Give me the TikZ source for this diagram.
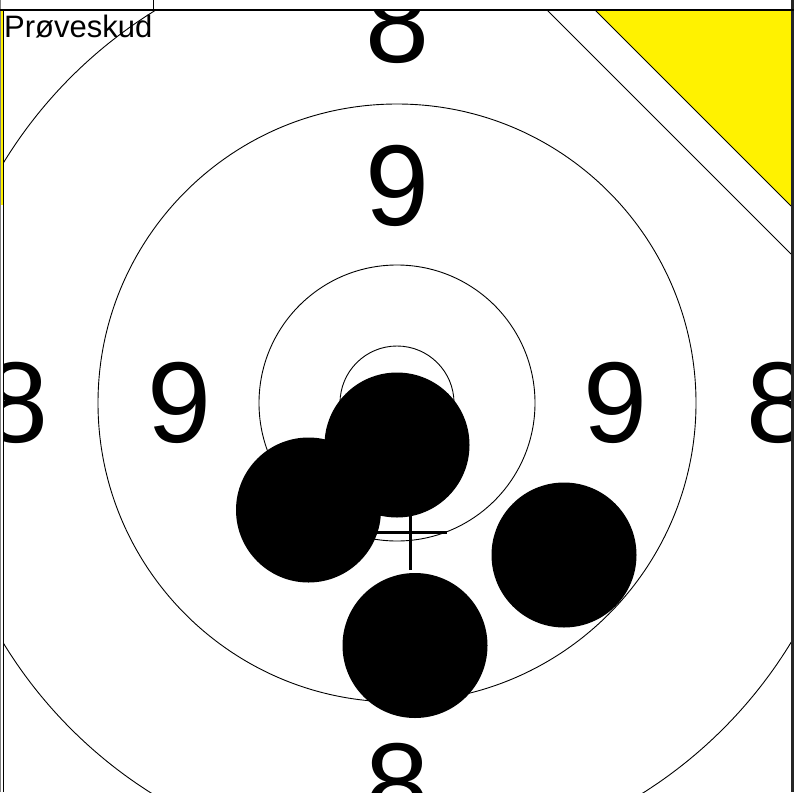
\documentclass[tikz,border=0pt]{standalone}
\usepackage{fontspec}
\setmainfont{Liberation Sans}
\begin{document}
\begin{tikzpicture}[x={(1pt,0)},y={(0,-1pt)},
  ring/.style={draw=black,line width=0.9pt},
  digit/.style={inner sep=0pt,font=\fontsize{115}{115}\selectfont},
  shot/.style={fill=black},
  crossline/.style={line width=3pt,line cap=butt}]
\useasboundingbox (0,0) rectangle (794,792);
\fill[white] (0,0) rectangle (794,792);
\coordinate (c) at (397,403);
\begin{scope}
  \clip (3,10) rectangle (791,792);
  % rings
  \draw[ring] (c) circle[radius=57];
  \draw[ring] (c) circle[radius=138];
  \draw[ring] (c) circle[radius=299];
  \draw[ring] (c) circle[radius=461];
  % corner band (covers the outer ring) and yellow corner
  \fill[white] (547,10) -- (791,10) -- (791,254) -- cycle;
  \fill[yellow] (595,10) -- (791,10) -- (791,206) -- cycle;
  \draw[line width=0.9pt] (595,10) -- (791,206);
  \draw[line width=0.9pt] (547,10) -- (791,254);
  % numbers
  \node[digit] (n8t) at (397,22.5) {8};
  \node[digit] (n8b) at (397,784) {8};
  \node[digit] (n8l) at (16,403) {8};
  \node[digit] (n8r) at (778,403) {8};
  \node[digit] (n9t) at (397,185.5) {9};
  \node[digit] (n9l) at (179,403) {9};
  \node[digit] (n9r) at (615.5,403) {9};
  % cross
  \coordinate (xc) at (410,532);
  \draw[crossline] (373,532) -- (447,532);
  \draw[crossline] (410,495) -- (410,570);
  % shots
  \fill[shot] (397,445) circle[radius=72.5];
  \fill[shot] (308.5,510) circle[radius=72.5];
  \fill[shot] (564,555) circle[radius=72.5];
  \fill[shot] (415,645.5) circle[radius=72.5];
\end{scope}
% frame
\fill[yellow] (1,10) rectangle (3,205);
\draw[gray,line width=1pt] (0.5,0) -- (0.5,792);
\draw[black,line width=1pt] (3,10) -- (3,792);
\draw[black!85,line width=2.5pt] (792.7,0) -- (792.7,792);
\draw[black,line width=1.2pt] (0,10) -- (794,10);
\draw[black,line width=1pt] (153,0) -- (153,10);
\node[anchor=base west,inner sep=0pt,font=\fontsize{31}{31}\selectfont] (title) at (4,37.3) {Prøveskud};
\end{tikzpicture}
\end{document}
